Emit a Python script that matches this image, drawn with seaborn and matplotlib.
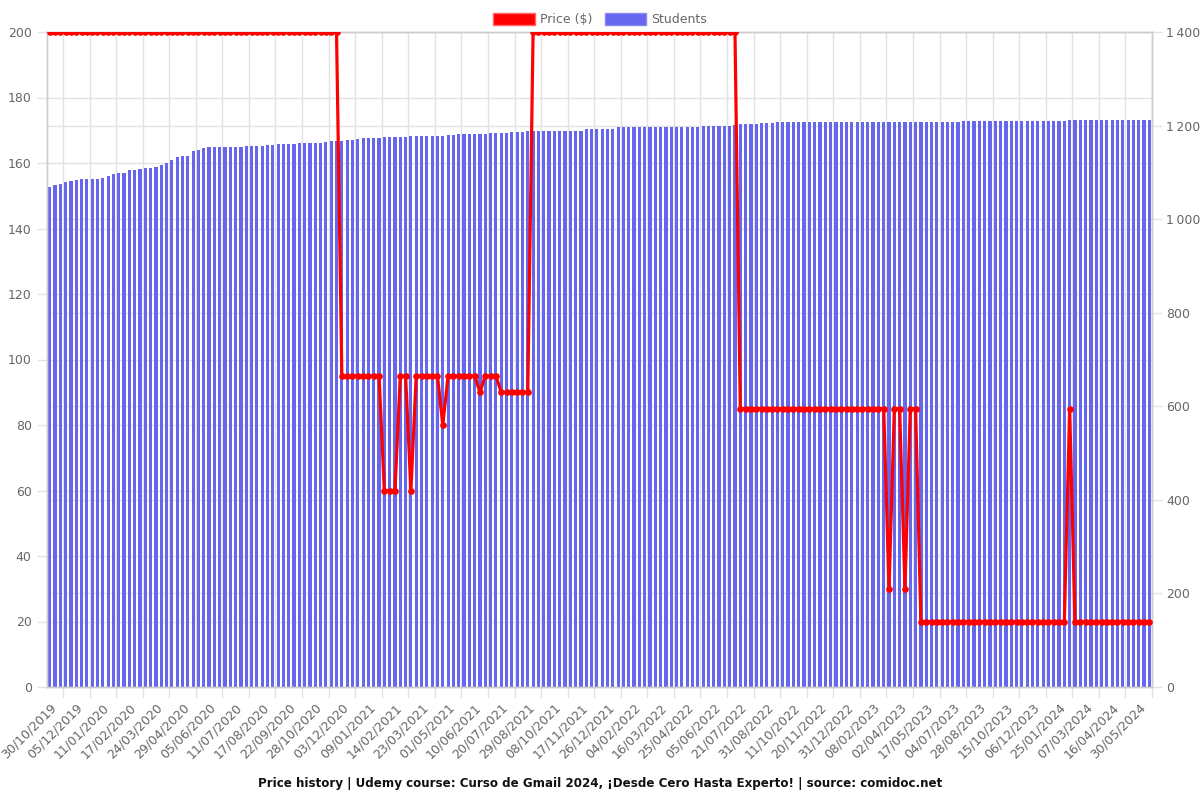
import numpy as np
import pandas as pd
import matplotlib
matplotlib.use("Agg")
import matplotlib.pyplot as plt
import seaborn as sns
from matplotlib.patches import Patch
from matplotlib.ticker import FuncFormatter

# ---------------- data ----------------
tick_labels = [
    "30/10/2019", "05/12/2019", "11/01/2020", "17/02/2020", "24/03/2020", "29/04/2020",
    "05/06/2020", "11/07/2020", "17/08/2020", "22/09/2020", "28/10/2020", "03/12/2020",
    "09/01/2021", "14/02/2021", "23/03/2021", "01/05/2021", "10/06/2021", "20/07/2021",
    "29/08/2021", "08/10/2021", "17/11/2021", "26/12/2021", "04/02/2022", "16/03/2022",
    "25/04/2022", "05/06/2022", "21/07/2022", "31/08/2022", "11/10/2022", "20/11/2022",
    "31/12/2022", "08/02/2023", "02/04/2023", "17/05/2023", "04/07/2023", "28/08/2023",
    "15/10/2023", "06/12/2023", "25/01/2024", "07/03/2024", "16/04/2024", "30/05/2024",
]

price = [
    200, 200, 200, 200, 200, 200, 200, 200, 200, 200,
    200, 200, 200, 200, 200, 200, 200, 200, 200, 200,
    200, 200, 200, 200, 200, 200, 200, 200, 200, 200,
    200, 200, 200, 200, 200, 200, 200, 200, 200, 200,
    200, 200, 200, 200, 200, 200, 200, 200, 200, 200,
    200, 200, 200, 200, 200, 95, 95, 95, 95, 95,
    95, 95, 95, 60, 60, 60, 95, 95, 60, 95,
    95, 95, 95, 95, 80, 95, 95, 95, 95, 95,
    95, 90, 95, 95, 95, 90, 90, 90, 90, 90,
    90, 200, 200, 200, 200, 200, 200, 200, 200, 200,
    200, 200, 200, 200, 200, 200, 200, 200, 200, 200,
    200, 200, 200, 200, 200, 200, 200, 200, 200, 200,
    200, 200, 200, 200, 200, 200, 200, 200, 200, 200,
    85, 85, 85, 85, 85, 85, 85, 85, 85, 85,
    85, 85, 85, 85, 85, 85, 85, 85, 85, 85,
    85, 85, 85, 85, 85, 85, 85, 85, 30, 85,
    85, 30, 85, 85, 20, 20, 20, 20, 20, 20,
    20, 20, 20, 20, 20, 20, 20, 20, 20, 20,
    20, 20, 20, 20, 20, 20, 20, 20, 20, 20,
    20, 20, 85, 20, 20, 20, 20, 20, 20, 20,
    20, 20, 20, 20, 20, 20, 20, 20,
]

students = [
    1069, 1072, 1076, 1079, 1081, 1083, 1085, 1085, 1085, 1085,
    1088, 1092, 1096, 1098, 1099, 1104, 1106, 1108, 1109, 1109,
    1111, 1115, 1121, 1126, 1133, 1135, 1135, 1146, 1148, 1152,
    1155, 1155, 1155, 1155, 1155, 1155, 1155, 1156, 1157, 1157,
    1157, 1158, 1158, 1160, 1160, 1161, 1161, 1162, 1163, 1163,
    1163, 1163, 1164, 1166, 1168, 1168, 1170, 1170, 1172, 1174,
    1174, 1174, 1174, 1175, 1175, 1175, 1175, 1175, 1177, 1177,
    1177, 1177, 1177, 1177, 1178, 1180, 1180, 1181, 1182, 1182,
    1182, 1183, 1183, 1184, 1184, 1185, 1185, 1186, 1186, 1187,
    1188, 1188, 1188, 1188, 1188, 1188, 1188, 1188, 1188, 1188,
    1188, 1192, 1192, 1192, 1192, 1192, 1192, 1197, 1197, 1197,
    1197, 1197, 1197, 1197, 1197, 1197, 1198, 1198, 1198, 1198,
    1198, 1198, 1198, 1200, 1200, 1200, 1200, 1200, 1200, 1201,
    1203, 1203, 1203, 1203, 1205, 1205, 1205, 1207, 1207, 1207,
    1207, 1207, 1207, 1207, 1207, 1207, 1207, 1207, 1207, 1207,
    1207, 1207, 1207, 1207, 1207, 1207, 1207, 1207, 1207, 1207,
    1207, 1207, 1207, 1207, 1207, 1207, 1207, 1207, 1207, 1207,
    1207, 1207, 1209, 1209, 1209, 1209, 1209, 1209, 1209, 1209,
    1209, 1209, 1209, 1209, 1209, 1209, 1209, 1209, 1209, 1209,
    1209, 1209, 1211, 1211, 1211, 1211, 1211, 1211, 1211, 1211,
    1211, 1211, 1211, 1211, 1211, 1211, 1211, 1211,
]

price_ticks = [0, 20, 40, 60, 80, 100, 120, 140, 160, 180, 200]
student_ticks = [0, 200, 400, 600, 800, 1000, 1200, 1400]

title = ("Price history | Udemy course: Curso de Gmail 2024, "
         "¡Desde Cero Hasta Experto! | source: comidoc.net")

# ---------------- style ----------------
sns.set_theme(style="white")
plt.rcParams["font.family"] = ["DejaVu Sans"]

BAR_COLOR = "#6666ee"
LINE_COLOR = "#ff0000"
GRID = "#e2e2e2"
SPINE = "#cccccc"
TXT = "#666666"

n = len(price)
df = pd.DataFrame({"idx": np.arange(n), "price": price, "students": students})

fig = plt.figure(figsize=(12, 8), dpi=100)
ax = fig.add_axes([47 / 1200, 1 - 687 / 800, (1152 - 47) / 1200, (687 - 32) / 800])
ax2 = ax.twinx()

# bars (students, right scale) on the lower axes
sns.barplot(data=df, x="idx", y="students", ax=ax, color=BAR_COLOR,
            saturation=1, width=0.6, linewidth=0, zorder=2)
ax.set_ylim(0, 1400)
ax.set_xlim(-0.5, n - 0.5)
ax.set_xlabel("")
ax.set_ylabel("")

# line (price, left scale) on the upper axes
sns.lineplot(data=df, x="idx", y="price", ax=ax2, color=LINE_COLOR, linewidth=2.3,
             marker="o", markersize=4.8, markeredgewidth=0, zorder=3)
ax2.set_ylim(0, 200)
ax2.set_xlim(-0.5, n - 0.5)
ax2.set_xlabel("")
ax2.set_ylabel("")

# right axis (students)
ax.yaxis.tick_right()
ax.yaxis.set_label_position("right")
ax.set_yticks(student_ticks)
ax.yaxis.set_major_formatter(
    FuncFormatter(lambda v, p: f"{int(v):,}".replace(",", "\u2009")))
ax.set_yticks([t * 1400 / 200 for t in price_ticks], minor=True)
ax.tick_params(axis="y", which="major", right=True, left=False, labelright=True,
               labelleft=False, length=7, width=1, color=GRID,
               labelcolor=TXT, labelsize=9, pad=3)
ax.tick_params(axis="y", which="minor", right=False, left=False, length=0)

# left axis (price)
ax2.yaxis.tick_left()
ax2.yaxis.set_label_position("left")
ax2.set_yticks(price_ticks)
ax2.tick_params(axis="y", which="major", left=True, right=False, labelleft=True,
                labelright=False, length=7, width=1,
                color=GRID, labelcolor=TXT, labelsize=9, pad=4)
ax2.grid(False)

# x axis
ax.set_xticks(np.arange(0, n, 5))
ax.set_xticklabels(tick_labels, rotation=45, ha="right", rotation_mode="anchor",
                   fontsize=9, color=TXT)
ax.set_xticks(np.arange(2.5, n, 5), minor=True)
ax.tick_params(axis="x", which="major", bottom=True, length=0, pad=10)
ax.tick_params(axis="x", which="minor", bottom=True, length=8, width=1, color=GRID)

ax.set_axisbelow(True)
ax.grid(True, axis="y", which="both", color=GRID, linewidth=1)
ax.grid(True, axis="x", which="minor", color=GRID, linewidth=1)
ax.grid(False, axis="x", which="major")
for a in (ax, ax2):
    for s in a.spines.values():
        s.set_color(SPINE)
        s.set_linewidth(1)

# legend
handles = [Patch(facecolor=LINE_COLOR, edgecolor="#ff6666", linewidth=1),
           Patch(facecolor=BAR_COLOR, edgecolor="#8888f2", linewidth=1)]
leg = fig.legend(handles=handles, labels=["Price ($)", "Students"],
                 loc="upper center", bbox_to_anchor=(0.5, 1.0 - 2 / 800), ncol=2,
                 frameon=False, fontsize=9, handlelength=3.3, handleheight=1.0,
                 handletextpad=0.4, columnspacing=1.0)
for t in leg.get_texts():
    t.set_color(TXT)

fig.text(0.5, 1 - 783 / 800, title, ha="center", va="center",
         fontsize=8.6, fontweight="bold", color="#111111")

fig.savefig("out.png", dpi=100)
